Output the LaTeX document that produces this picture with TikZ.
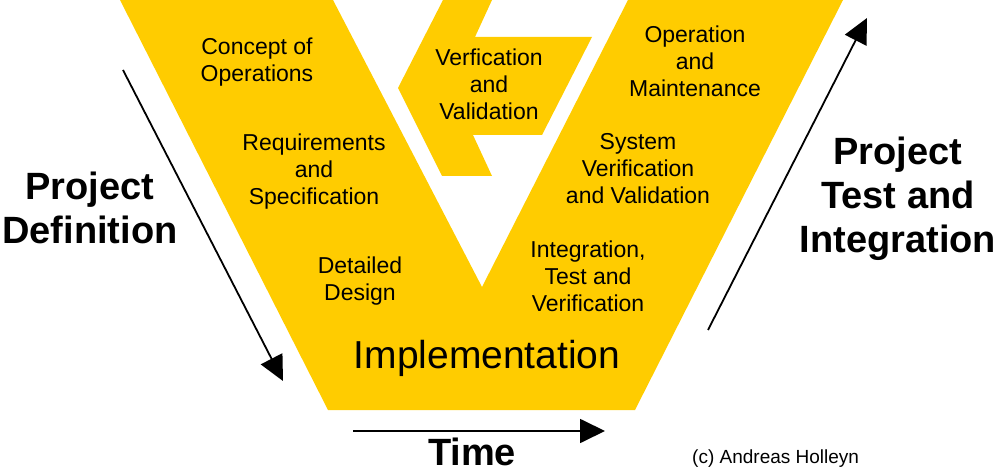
\documentclass[tikz,border=0pt]{standalone}
\usepackage{fontspec}
\setmainfont{Liberation Sans}
\usetikzlibrary{arrows.meta}
\definecolor{vyellow}{RGB}{255,204,0}
\begin{document}
\begin{tikzpicture}[x=1pt,y=-1pt,
  phase/.style={font=\fontsize{23}{27}\selectfont, align=center, anchor=base, inner sep=0pt},
  big/.style={font=\fontsize{38}{44}\selectfont\bfseries, align=center, anchor=base, inner sep=0pt},
  flow/.style={line width=1.8pt, -{Triangle[length=25pt,width=24pt]}}]
\useasboundingbox (0,0) rectangle (997,473);
\fill[vyellow] (120,0) -- (333,0) -- (482,287) -- (628,0) -- (843,0) -- (635,410) -- (328,410) -- cycle;
\fill[vyellow] (398,88) -- (443,0) -- (492,0) -- (475,37) -- (592,37) -- (542,135) -- (473,135) -- (492,176) -- (442,176) -- cycle;
\node[phase] (conops) at (257,82) {Concept of\\Operations};
\node[phase] (req) at (314,205) {Requirements\\and\\Specification};
\node[phase] (dd) at (360,301) {Detailed\\Design};
\node[phase] (vv) at (489,120) {Verfication\\and\\Validation};
\node[phase] (om) at (695,97) {Operation\\and\\Maintenance};
\node[phase] (svv) at (638,204) {System\\Verification\\and Validation};
\node[phase] (itv) at (588,312) {Integration,\\Test and\\Verification};
\node[font=\fontsize{39}{44}\selectfont, anchor=base, inner sep=0pt] (impl) at (487,369) {Implementation};
\node[big] (pdef) at (90,244) {Project\\Definition};
\node[big] (ptest) at (898,253) {Project\\Test and\\Integration};
\node[big, text depth=0pt] (time) at (472,465) {Time};
\node[font=\fontsize{19}{22}\selectfont, anchor=base west, inner sep=0pt] (copy) at (692,463) {(c) Andreas Holleyn};
\coordinate (ls) at (123,70);
\coordinate (le) at (283,381);
\coordinate (rs) at (708,330);
\coordinate (re) at (867,18);
\coordinate (ts) at (353,431);
\coordinate (te) at (605,431);
\draw[flow] (ls) -- (le);
\draw[flow] (rs) -- (re);
\draw[flow] (ts) -- (te);
\end{tikzpicture}
\end{document}
